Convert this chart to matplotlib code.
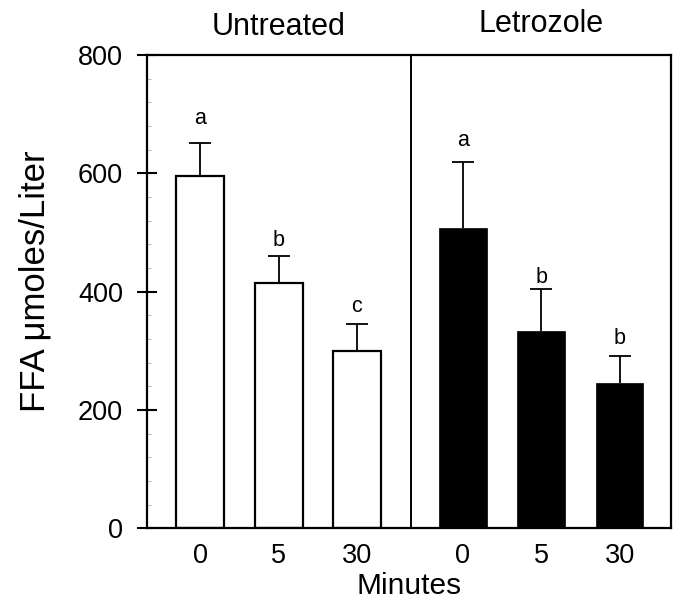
import numpy as np
import matplotlib
matplotlib.use("Agg")
import matplotlib.pyplot as plt
import matplotlib.transforms as mtransforms
from matplotlib.ticker import MultipleLocator

plt.rcParams['font.family'] = ['Liberation Sans', 'DejaVu Sans']

# ---- data ----
groups = ["Untreated", "Letrozole"]
minutes = ["0", "5", "30"]
untreated_mean = [595, 415, 300]
untreated_sem = [56, 45, 46]
letrozole_mean = [507, 334, 245]
letrozole_sem = [112, 71, 47]
untreated_letters = ["a", "b", "c"]
letrozole_letters = ["a", "b", "b"]
untreated_letter_y = [683, 478, 366]
letrozole_letter_y = [646, 415, 311]
yticks = [0, 200, 400, 600, 800]

# ---- layout ----
W, H = 681, 601
fig = plt.figure(figsize=(W / 100, H / 100), dpi=100)
L, R, T, B = 147.3, 671.3, 55.0, 528.3
ax = fig.add_axes([L / W, 1 - B / H, (R - L) / W, (B - T) / H])

x_u = np.arange(3)
x_l = np.arange(3) + 3.35
divider = 2.69
bw = 0.61
lw = 1.6

ax.bar(x_u, untreated_mean, width=bw, color="white", edgecolor="black",
       linewidth=lw, zorder=2)
ax.bar(x_l, letrozole_mean, width=bw, color="black", edgecolor="black",
       linewidth=0.5, zorder=2)

for xs, m, e in [(x_u, untreated_mean, untreated_sem), (x_l, letrozole_mean, letrozole_sem)]:
    _, caps, _ = ax.errorbar(xs, m, yerr=[np.zeros(len(e)), e], fmt="none",
                             ecolor="black", elinewidth=1.3, capsize=8,
                             capthick=1.3, zorder=3)
    # only the upper caps are drawn
    caps[0].set_visible(False)

for xs, labs, ys in [(x_u, untreated_letters, untreated_letter_y),
                     (x_l, letrozole_letters, letrozole_letter_y)]:
    for xi, lab, yi in zip(xs, labs, ys):
        ax.text(xi, yi, lab, ha="center", va="baseline", fontsize=15.5)

ax.axvline(divider, color="black", linewidth=1.4, zorder=1)

ax.set_xlim(-0.675, 6.01)
ax.set_ylim(0, 800)

ax.set_xticks(np.concatenate([x_u, x_l]))
ax.set_xticklabels(minutes + minutes)
ax.tick_params(axis="x", length=0, pad=10.5, labelsize=19.5)

ax.set_yticks(yticks)
ax.yaxis.set_minor_locator(MultipleLocator(40))
ax.tick_params(axis="y", which="major", direction="inout", length=15, width=1.5,
               pad=10, labelsize=19.5)
ax.tick_params(axis="y", which="minor", direction="in", length=3, width=0.8,
               color="#bbbbbb")

for s in ax.spines.values():
    s.set_linewidth(lw)

ax.set_xlabel("Minutes", fontsize=21.5, labelpad=2)

# group titles
trans = mtransforms.blended_transform_factory(ax.transData, fig.transFigure)
ax.text(x_u.mean(), 1 - 35 / H, groups[0], transform=trans, ha="center",
        va="baseline", fontsize=22)
ax.text(x_l.mean(), 1 - 32 / H, groups[1], transform=trans, ha="center",
        va="baseline", fontsize=22)

fig.text(35 / W, 1 - 281 / H, "FFA \u03bcmoles/Liter", rotation=90, ha="center",
         va="center", fontsize=25)

fig.savefig("out.png", dpi=100)
